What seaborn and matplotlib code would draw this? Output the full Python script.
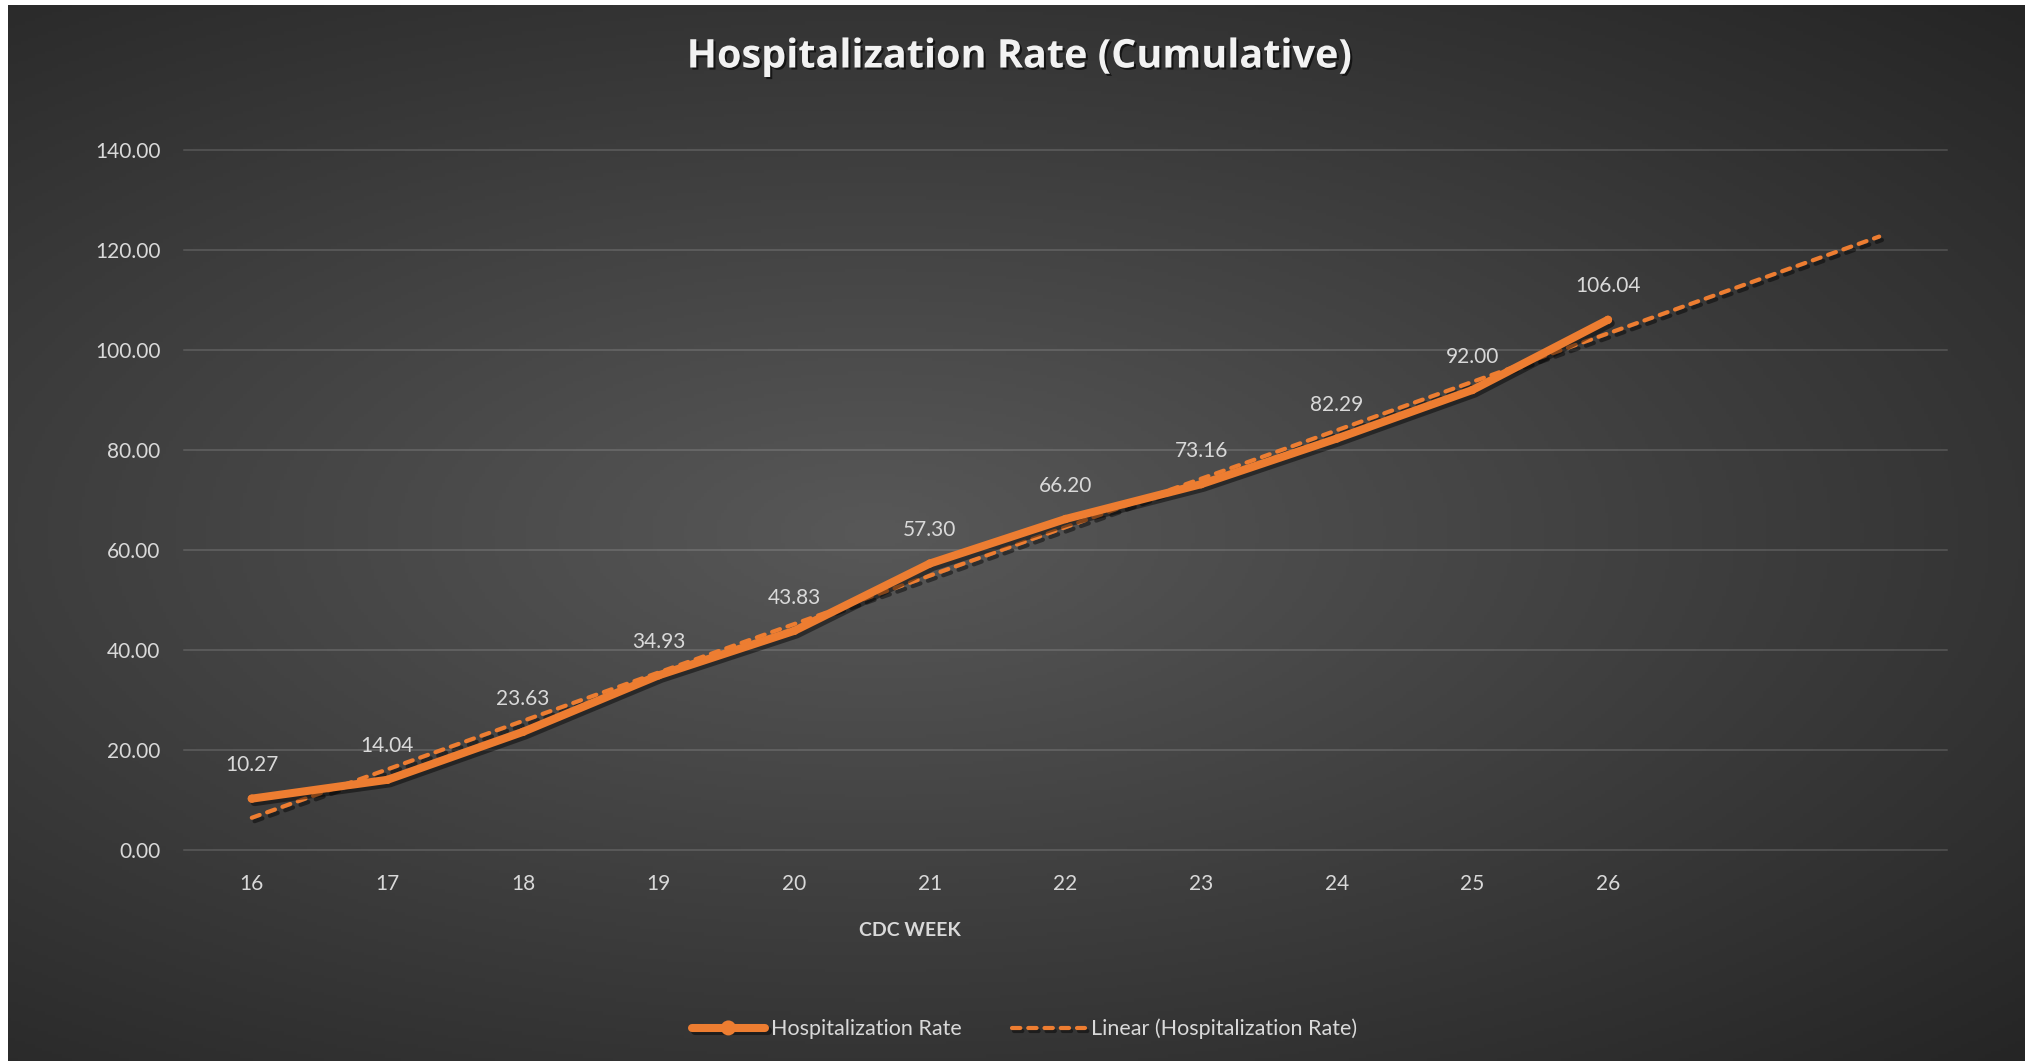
"""Hospitalization Rate (Cumulative) - Excel dark style recreation"""
import seaborn as sns
import matplotlib.pyplot as plt
import matplotlib.patheffects as pe
import pandas as pd
import numpy as np

ORANGE = '#ED7D31'
TEXT, MUTED = '#f2f2f2', '#d9d9d9'

weeks = [16, 17, 18, 19, 20, 21, 22, 23, 24, 25, 26]
rates = [10.27, 14.04, 23.63, 34.93, 43.83, 57.30, 66.20, 73.16, 82.29, 92.00, 106.04]
forecast_periods = 2
y_ticks = [0, 20, 40, 60, 80, 100, 120, 140]

sns.set_theme(style='dark', rc={'axes.unicode_minus': False})
plt.rcParams['font.family'] = ['Lato', 'DejaVu Sans']

df = pd.DataFrame({'CDC WEEK': weeks, 'Hospitalization Rate': rates})

# linear trendline (Excel style, forecast forward 2 periods)
slope, intercept = np.polyfit(weeks, rates, 1)
trend_x = np.arange(weeks[0], weeks[-1] + forecast_periods + 1)
trend = pd.DataFrame({'CDC WEEK': trend_x, 'Trend': slope * trend_x + intercept})

fig = plt.figure(figsize=(20.25, 10.61), dpi=100, facecolor='white')

# radial gradient background, white strip top/left
bg = fig.add_axes([8 / 2025, 0, 1 - 8 / 2025, 1 - 5 / 1061], zorder=-5)
gx, gy = np.meshgrid(np.linspace(0, 1, 600), np.linspace(0, 1, 320))
r = np.sqrt(((gx - 0.43) / 0.57) ** 2 + ((gy - 0.5) / 0.5) ** 2) / np.sqrt(2)
r = np.clip(r, 0, 1)
c_in, c_out = np.array([0x58, 0x58, 0x58]) / 255, np.array([0x25, 0x25, 0x25]) / 255
img = c_in[None, None, :] * (1 - r[..., None]) + c_out[None, None, :] * r[..., None]
bg.imshow(img, aspect='auto', extent=[0, 1, 0, 1], origin='upper')
bg.axis('off')

ax = fig.add_axes([184 / 2025, 1 - 850 / 1061, (1947 - 184) / 2025, 700 / 1061])
ax.patch.set_alpha(0)
for sp in ax.spines.values():
    sp.set_visible(False)

shadow = [pe.SimpleLineShadow(offset=(2, -2.5), shadow_color='black', alpha=0.45), pe.Normal()]
sns.lineplot(data=trend, x='CDC WEEK', y='Trend', ax=ax, color=ORANGE, lw=3.0,
             dashes=False, label='Linear (Hospitalization Rate)', zorder=3)
tl = ax.lines[-1]
tl.set_dashes((2.0, 1.9))
tl.set_dash_capstyle('round')
tl.set_path_effects(shadow)

sns.lineplot(data=df, x='CDC WEEK', y='Hospitalization Rate', ax=ax, color=ORANGE,
             lw=5.8, marker='o', markersize=6, markeredgewidth=0,
             label='Hospitalization Rate', zorder=4)
ml = ax.lines[-1]
ml.set_solid_capstyle('round')
ml.set_solid_joinstyle('round')
ml.set_path_effects(shadow)

for w, v in zip(weeks, rates):
    ax.annotate(f'{v:.2f}', xy=(w, v), xytext=(0, 24), textcoords='offset points',
                ha='center', va='center', fontsize=15, color=MUTED, zorder=5)

ax.set_xlim(weeks[0] - 0.5, weeks[-1] + forecast_periods + 0.5)
ax.set_ylim(0, 140)
ax.set_yticks(y_ticks)
ax.set_yticklabels([f'{t:.2f}' for t in y_ticks])
ax.set_xticks(weeks)
ax.set_xticklabels([str(w) for w in weeks])
ax.tick_params(axis='both', length=0, labelsize=15, labelcolor=MUTED)
ax.tick_params(axis='x', pad=17)
ax.tick_params(axis='y', pad=17)
ax.yaxis.grid(True, color='white', alpha=0.13, lw=1.5)
ax.xaxis.grid(False)
for gl in ax.get_ygridlines():
    gl.set_clip_on(False)
ax.set_xlabel('')
ax.set_ylabel('')

handles, labels = ax.get_legend_handles_labels()
ax.legend_.remove()
order = [labels.index('Hospitalization Rate'), labels.index('Linear (Hospitalization Rate)')]
leg = fig.legend([handles[i] for i in order], [labels[i] for i in order],
                 loc='center', bbox_to_anchor=(0.506, 0.030), ncol=2, frameon=False,
                 fontsize=15.5, handlelength=3.4, handletextpad=0.3, columnspacing=2.3,
                 markerscale=1.8)
for t in leg.get_texts():
    t.set_color(MUTED)

fig.text(910 / 2025, 1 - 930 / 1061, 'CDC WEEK', ha='center', va='center',
         fontsize=14, fontweight='bold', color=MUTED)
fig.text(0.5035, 1 - 57 / 1061, 'Hospitalization Rate (Cumulative)', ha='center', va='center',
         fontsize=28.5, fontweight='bold', color=TEXT, family=['Open Sans', 'DejaVu Sans'],
         path_effects=[pe.withSimplePatchShadow(offset=(1.5, -1.5), shadow_rgbFace='black', alpha=0.6)])

fig.savefig('out.png', dpi=100, facecolor='white')
